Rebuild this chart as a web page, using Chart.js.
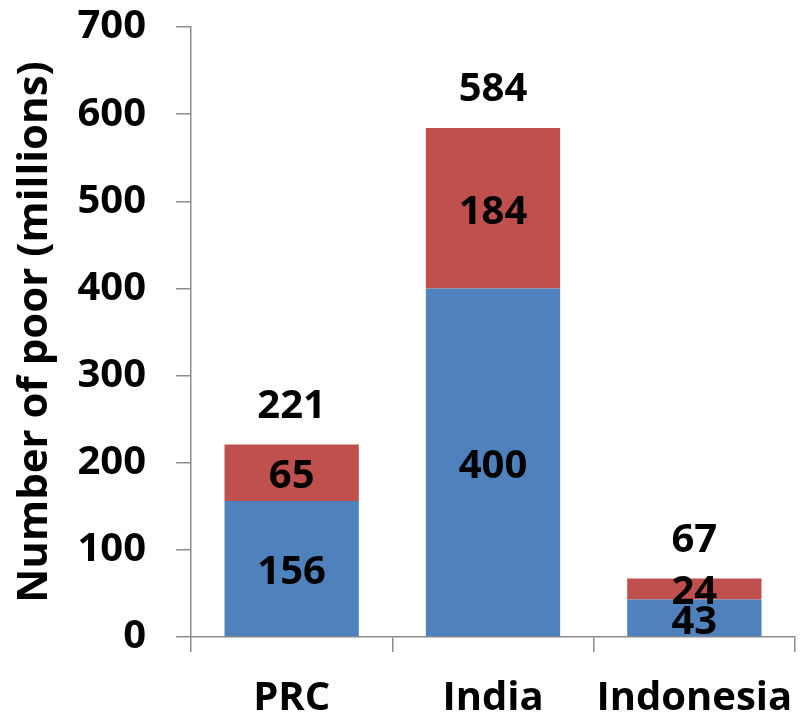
<!DOCTYPE html>
<html>
<head>
<meta charset="utf-8">
<script src="https://cdn.jsdelivr.net/npm/chart.js@4"></script>
<style>
  html, body { margin: 0; padding: 0; background: #fff; }
  #wrap { width: 804px; height: 718px; }
</style>
</head>
<body>
<div id="wrap"><canvas id="poor"></canvas></div>
<script>
// Number of poor, millions, stacked by group
const countries = ['PRC', 'India', 'Indonesia'];
const lowerPart = [156, 400, 43];
const upperPart = [65, 184, 24];
const totals = [221, 584, 67];
const yTicks = [0, 100, 200, 300, 400, 500, 600, 700];

const FONT = '"Open Sans", Lato, sans-serif';
const axisGray = '#8c8c8c';

// writes segment values inside each bar and the total above it
const valueLabels = {
  id: 'valueLabels',
  afterDatasetsDraw(chart) {
    const ctx = chart.ctx;
    const y = chart.scales.y;
    ctx.save();
    ctx.font = 'bold 40px ' + FONT;
    ctx.fillStyle = '#000';
    ctx.textAlign = 'center';
    ctx.textBaseline = 'middle';
    chart.data.datasets.forEach((ds, di) => {
      const meta = chart.getDatasetMeta(di);
      meta.data.forEach((bar, i) => {
        const base = di === 0 ? 0 : lowerPart[i];
        const mid = y.getPixelForValue(base + ds.data[i] / 2);
        ctx.fillText(String(ds.data[i]), bar.x, mid + 4);
      });
    });
    const top = chart.getDatasetMeta(1);
    top.data.forEach((bar, i) => {
      ctx.fillText(String(totals[i]), bar.x, y.getPixelForValue(totals[i]) - 38);
    });
    ctx.restore();
  }
};

new Chart(document.getElementById('poor').getContext('2d'), {
  type: 'bar',
  data: {
    labels: countries,
    datasets: [
      { label: 'lower', data: lowerPart, backgroundColor: '#4f81bd', barPercentage: 0.667, categoryPercentage: 1 },
      { label: 'upper', data: upperPart, backgroundColor: '#c0504d', barPercentage: 0.667, categoryPercentage: 1 }
    ]
  },
  options: {
    responsive: true,
    maintainAspectRatio: false,
    animation: false,
    layout: { padding: { top: 27, right: 9, bottom: 0, left: 0 } },
    plugins: { legend: { display: false }, tooltip: { enabled: false } },
    scales: {
      x: {
        stacked: true,
        grid: { drawOnChartArea: false, tickLength: 15, color: axisGray, lineWidth: 1.5, offset: true },
        border: { color: axisGray, width: 1.5 },
        ticks: { color: '#000', font: { family: FONT, size: 40, weight: 'bold' }, padding: 23, maxRotation: 0 },
        afterFit(scale) {
          scale.height = 81;
          scale.paddingLeft = 0;
          scale.paddingRight = 0;
        }
      },
      y: {
        stacked: true,
        min: 0,
        max: 700,
        afterBuildTicks(scale) { scale.ticks = yTicks.map(v => ({ value: v })); },
        grid: { drawOnChartArea: false, tickLength: 15, color: axisGray, lineWidth: 1.5 },
        border: { color: axisGray, width: 1.5 },
        ticks: { color: '#000', font: { family: FONT, size: 40, weight: 'bold' }, padding: 30 },
        title: {
          display: true,
          text: 'Number of poor (millions)',
          color: '#000',
          font: { family: FONT, size: 42, weight: 'bold' },
          padding: { top: 10, bottom: 0 }
        },
        afterFit(scale) {
          scale.width = 191;
          scale.paddingTop = 0;
          scale.paddingBottom = 0;
        }
      }
    }
  },
  plugins: [valueLabels]
});
</script>
</body>
</html>
